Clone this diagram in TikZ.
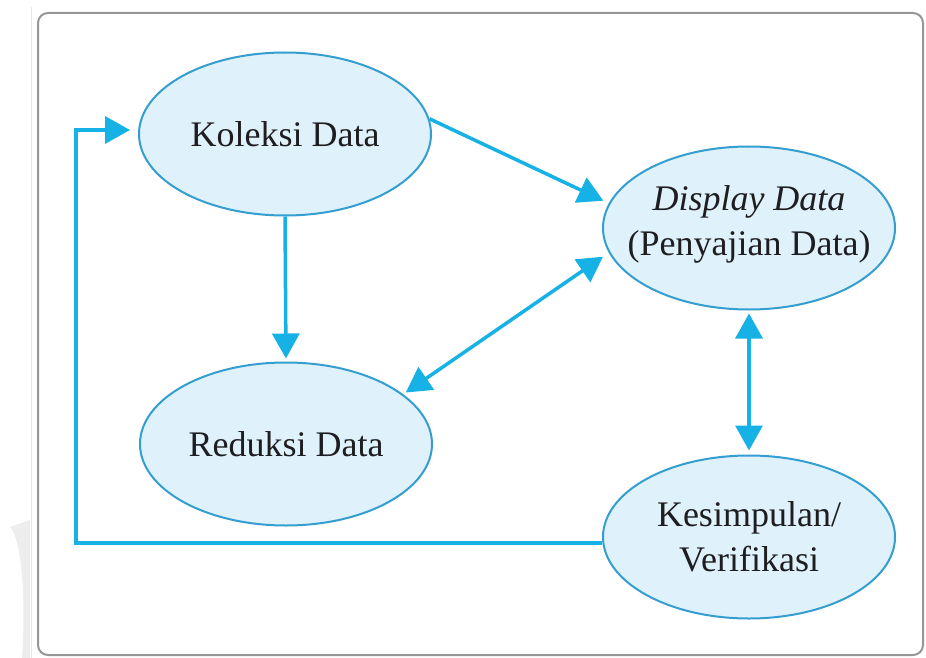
\documentclass[tikz,border=0pt]{standalone}
\usepackage{fontspec}
\setmainfont{Liberation Serif}
\usetikzlibrary{shapes.geometric,arrows.meta}
\definecolor{arrowc}{RGB}{22,178,230}
\definecolor{ellb}{RGB}{52,158,208}
\definecolor{ellf}{RGB}{223,241,250}
\definecolor{txtc}{RGB}{30,30,34}
\definecolor{framec}{RGB}{150,150,150}
\tikzset{
  ell/.style={ellipse, draw=ellb, fill=ellf, line width=2pt, minimum width=292pt, minimum height=163pt, inner sep=0pt},
  lbl/.style={text=txtc, align=center, font=\fontsize{36}{45}\selectfont, inner sep=0pt},
  arr/.style={draw=arrowc, line width=3.5pt, -{Triangle[length=25pt,width=27pt]}},
  darr/.style={draw=arrowc, line width=3.5pt, {Triangle[length=25pt,width=27pt]}-{Triangle[length=25pt,width=27pt]}}
}
\begin{document}
\begin{tikzpicture}[x=1pt,y=-1pt]
\useasboundingbox (0,0) rectangle (926,658);
\fill[white] (0,0) rectangle (926,658);
% faint shadow artifacts
\draw[gray!18, line width=1pt] (31,7) -- (31,658);
\fill[gray!14] (10,527) .. controls (22,540) and (26,600) .. (22,658) -- (30,658) -- (30,520) -- cycle;
% frame
\draw[framec, line width=2pt, rounded corners=10pt] (38,13) rectangle (923,655);
% ellipses
\node[ell] (k) at (285,134) {};
\node[ell] (d) at (749,228) {};
\node[ell] (r) at (286,444) {};
\node[ell] (s) at (749,537) {};
% labels
\node[lbl] (kt) at (k) {Koleksi Data};
\node[lbl] (dt) at ([yshift=4pt]d.center) {\itshape Display Data\\(Penyajian Data)};
\node[lbl] (rt) at (r) {Reduksi Data};
\node[lbl] (st) at (s.center) {Kesimpulan/\\Verifikasi};
% connectors
\coordinate (lb) at (76,543);
\coordinate (lt) at (76,130);
\draw[arr, shorten >=6pt] (k.6) -- (d.170);
\draw[arr, shorten >=3pt] (k.south) -- (r.north);
\draw[darr, shorten >=7pt, shorten <=3pt] (r.23) -- (d.190);
\draw[darr, shorten >=4pt, shorten <=3pt] (d.south) -- (s.north);
\draw[arr, shorten >=8pt] (lb -| s.west) -- (lb) -- (lt) -- (k.west |- lt);
\end{tikzpicture}
\end{document}
